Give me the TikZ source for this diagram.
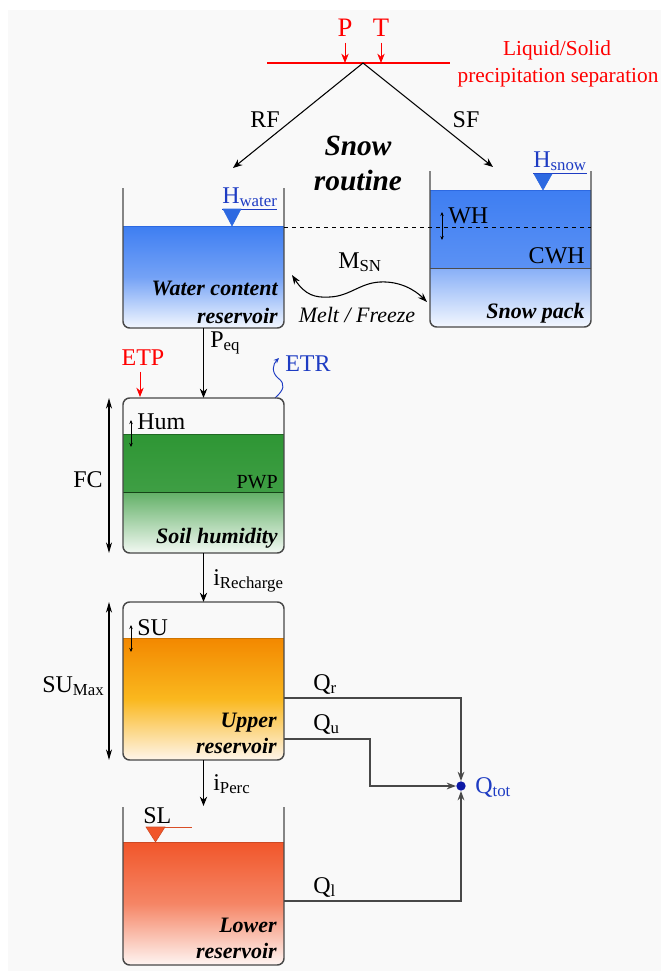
\documentclass[tikz,border=0pt]{standalone}
\usepackage{fontspec}
\setmainfont{Liberation Serif}
\usetikzlibrary{arrows.meta}
\definecolor{bgray}{RGB}{249,249,249}
\definecolor{wall}{RGB}{72,72,72}
\definecolor{wblue}{RGB}{62,126,242}
\definecolor{lblue}{RGB}{30,60,195}
\definecolor{mblue}{RGB}{45,105,225}
\definecolor{qblue}{RGB}{12,24,165}
\definecolor{sgreen}{RGB}{46,150,52}
\definecolor{uorange}{RGB}{243,136,0}
\definecolor{lred}{RGB}{241,86,42}
\definecolor{pred}{RGB}{255,0,0}

\begin{document}
\begin{tikzpicture}[x=0.75pt,y=-0.75pt,
		txt/.style={inner sep=0pt,anchor=base,font=\fontsize{18}{21}\selectfont},
		tankname/.style={inner sep=0pt,anchor=base east,font=\fontsize{16.5}{19}\selectfont\bfseries\itshape},
		tank/.style={draw=wall,line width=1.1pt,rounded corners=5pt},
		flow/.style={line width=0.8pt,-{Stealth[length=7pt,width=5.5pt]}},
		dimarr/.style={line width=0.8pt,{Stealth[length=8pt,width=4.5pt]}-{Stealth[length=8pt,width=4.5pt]}},
		smallarr/.style={line width=0.6pt,{Stealth[length=3pt,width=2.6pt]}-{Stealth[length=3pt,width=2.6pt]}},
		qline/.style={draw=wall,line width=1pt,-{Stealth[length=7pt,width=5pt]}}]
		\useasboundingbox (0,0) rectangle (661,971);
		\fill[bgray] (8,10) rectangle (661,971);

		\node[txt,pred,font=\fontsize{20}{22}\selectfont] (P) at (345,36) {P};
		\node[txt,pred,font=\fontsize{20}{22}\selectfont] (T) at (381,36) {T};
		\coordinate (sepL) at (267,63); \coordinate (sepR) at (450,63); \coordinate (apex) at (363,63);
		\draw[draw=pred,line width=0.8pt] (sepL) -- (sepR);
		\draw[flow,draw=pred,fill=pred,line width=0.6pt,shorten <=5pt] (P) -- (P |- apex);
		\draw[flow,draw=pred,fill=pred,line width=0.6pt,shorten <=5pt] (T) -- (T |- apex);
		\node[txt,pred,font=\fontsize{16}{19}\selectfont] (liq1) at (557,55) {Liquid/Solid};
		\node[txt,pred,font=\fontsize{16}{19}\selectfont] (liq2) at (558,82) {precipitation separation};

		\coordinate (rfend) at (233,168); \coordinate (sfend) at (493,167);
		\draw[flow] (apex) -- (rfend);
		\draw[flow] (apex) -- (sfend);
		\node[txt] (RF) at (265,127) {RF};
		\node[txt] (SF) at (466,127) {SF};
		\node[txt,font=\fontsize{22}{24}\selectfont\bfseries\itshape] (snow1) at (358,155) {Snow};
		\node[txt,font=\fontsize{22}{24}\selectfont\bfseries\itshape] (snow2) at (358,190) {routine};

		\begin{scope}
			\clip[rounded corners=5pt] (123,150) rectangle (284,328);
			\shade[top color=wblue,bottom color=white!94!wblue,middle color=wblue!72!white] (123,226) rectangle (284,328);
		\end{scope}
		\draw[mblue,line width=0.6pt] (123,226) -- (284,226);
		\draw[tank] (123,188) -- (123,328) -- (284,328) -- (284,188);
		\node[txt,anchor=base west,lblue] (Hw) at (222,203) {H\textsubscript{water}};
		\draw[lblue,line width=0.6pt] (222,209) -- (277,209);
		\filldraw[fill=mblue,draw=mblue] (223,209) -- (241,209) -- (232,226) -- cycle;
		\node[tankname] (wc1) at (278,295) {Water content};
		\node[tankname] (wc2) at (278,323) {reservoir};

		\begin{scope}
			\clip[rounded corners=5pt] (430,150) rectangle (591,327);
			\shade[top color=wblue,bottom color=wblue!85!white] (430,190) rectangle (591,268);
			\shade[top color=wblue!62!white,bottom color=white!94!wblue] (430,268) rectangle (591,327);
		\end{scope}
		\draw[mblue,line width=0.6pt] (430,190) -- (591,190);
		\draw[black!70,line width=0.5pt] (430,268) -- (591,268);
		\draw[tank] (430,171) -- (430,327) -- (591,327) -- (591,171);
		\node[txt,anchor=base west,lblue] (Hs) at (533,167) {H\textsubscript{snow}};
		\draw[lblue,line width=0.6pt] (533,173) -- (587,173);
		\filldraw[fill=mblue,draw=mblue] (534,174) -- (552,174) -- (543,190) -- cycle;
		\draw[dashed,line width=0.6pt] (284,227) -- (591,227);
		\node[txt,anchor=base west] (WH) at (448,223) {WH};
		\coordinate (wh0) at (442,212); \coordinate (wh1) at (442,240);
		\draw[smallarr] (wh0) -- (wh1);
		\node[txt,anchor=base east] (CWH) at (585,263) {CWH};
		\node[tankname] (sp) at (585,318) {Snow pack};

		\coordinate (msn0) at (292,275); \coordinate (msn1) at (427,302);
		\draw[line width=0.8pt,{Stealth[length=7pt,width=5pt]}-{Stealth[length=7pt,width=5pt]}] (msn0) .. controls (305,295) and (315,298) .. (330,297) .. controls (350,296) and (360,283) .. (380,282) .. controls (400,281) and (415,290) .. (msn1);
		\node[txt] (MSN) at (360,268) {M\textsubscript{SN}};
		\node[txt,font=\fontsize{16.5}{19}\selectfont\itshape] (mf) at (357,322) {Melt / Freeze};

		\coordinate (wbot) at (203.5,328); \coordinate (htop) at (203.5,398);
		\draw[flow] (wbot) -- (htop);
		\node[txt,anchor=base west] (Peq) at (210,347) {P\textsubscript{eq}};
		\node[txt,pred] (ETP) at (143,365) {ETP};
		\coordinate (etpend) at (140,397);
		\draw[flow,draw=pred,fill=pred,line width=0.6pt,shorten <=5pt] (ETP.south -| etpend) -- (etpend);
		\node[txt,anchor=base west,lblue] (ETR) at (285,371) {ETR};
		\coordinate (etr0) at (275,398); \coordinate (etr1) at (279,358);
		\draw[lblue,line width=0.7pt,-{Stealth[length=4pt,width=3.5pt]}] (etr0) .. controls (284,390) and (286,384) .. (278,378) .. controls (271,372) and (273,364) .. (etr1);

		\begin{scope}
			\clip[rounded corners=5pt] (123,398) rectangle (284,553);
			\shade[top color=sgreen,bottom color=sgreen!92!white] (123,434) rectangle (284,492);
			\shade[top color=sgreen!75!white,bottom color=sgreen!6!white] (123,492) rectangle (284,553);
		\end{scope}
		\draw[sgreen!70!black,line width=0.6pt] (123,434) -- (284,434);
		\draw[sgreen!45!black,line width=0.5pt] (123,492) -- (284,492);
		\draw[tank] (123,398) rectangle (284,553);
		\node[txt,anchor=base west] (Hum) at (137,429) {Hum};
		\coordinate (hum0) at (131,420); \coordinate (hum1) at (131,447);
		\draw[smallarr] (hum0) -- (hum1);
		\node[txt,anchor=base east,font=\fontsize{15}{17}\selectfont] (PWP) at (278,488) {PWP};
		\node[tankname] (sh) at (278,543) {Soil humidity};
		\node[txt] (FC) at (88,487) {FC};
		\coordinate (fc0) at (109,398); \coordinate (fc1) at (109,553);
		\draw[dimarr] (fc0) -- (fc1);

		\coordinate (hbot) at (203.5,553); \coordinate (utop) at (203.5,602);
		\draw[flow] (hbot) -- (utop);
		\node[txt,anchor=base west] (irech) at (213,585) {i\textsubscript{Recharge}};

		\begin{scope}
			\clip[rounded corners=5pt] (123,602) rectangle (284,760);
			\shade[top color=uorange,bottom color=uorange!8!white,middle color={rgb,255:red,250;green,184;blue,30}] (123,638) rectangle (284,760);
		\end{scope}
		\draw[uorange!85!black,line width=0.6pt] (123,638) -- (284,638);
		\draw[tank] (123,602) rectangle (284,760);
		\node[txt,anchor=base west] (SU) at (137,635) {SU};
		\coordinate (su0) at (131,625); \coordinate (su1) at (131,652);
		\draw[smallarr] (su0) -- (su1);
		\node[txt,anchor=base west] (SUmax) at (42,692) {SU\textsubscript{Max}};
		\coordinate (sm0) at (109,602); \coordinate (sm1) at (109,760);
		\draw[dimarr] (sm0) -- (sm1);
		\node[tankname] (up1) at (277,727) {Upper};
		\node[tankname] (up2) at (277,753) {reservoir};

		\coordinate (ubot) at (203.5,760); \coordinate (ltop) at (203.5,806);
		\draw[flow] (ubot) -- (ltop);
		\node[txt,anchor=base west] (iperc) at (213,790) {i\textsubscript{Perc}};

		\begin{scope}
			\clip[rounded corners=5pt] (123,800) rectangle (284,965);
			\shade[top color=lred,bottom color=lred!6!white,middle color=lred!72!white] (123,842) rectangle (284,965);
		\end{scope}
		\draw[lred!85!black,line width=0.6pt] (123,842) -- (284,842);
		\draw[tank] (123,807) -- (123,965) -- (284,965) -- (284,807);
		\node[txt,anchor=base west] (SL) at (143,823) {SL};
		\draw[lred!90!black,line width=0.6pt] (147,827) -- (192,827);
		\filldraw[fill=lred,draw=lred!85!black] (146,827) -- (165,827) -- (155.5,842) -- cycle;
		\node[tankname] (lo1) at (277,932) {Lower};
		\node[tankname] (lo2) at (277,958) {reservoir};

		\node[circle,fill=qblue,inner sep=0pt,minimum size=7pt] (tot) at (461,786) {};
		\node[txt,anchor=base west,lblue] (Qtot) at (475,793) {Q\textsubscript{tot}};
		\coordinate (qr) at (284,698); \coordinate (qu) at (284,739); \coordinate (qubend) at (370,739); \coordinate (ql) at (284,901);
		\draw[qline] (qr) -| (tot);
		\draw[qline] (qu) -- (qubend) |- (tot);
		\draw[qline] (ql) -| (tot);
		\node[txt,anchor=base west] (Qr) at (313,690) {Q\textsubscript{r}};
		\node[txt,anchor=base west] (Qu) at (313,730) {Q\textsubscript{u}};
		\node[txt,anchor=base west] (Ql) at (313,893) {Q\textsubscript{l}};
	\end{tikzpicture}
\end{document}
